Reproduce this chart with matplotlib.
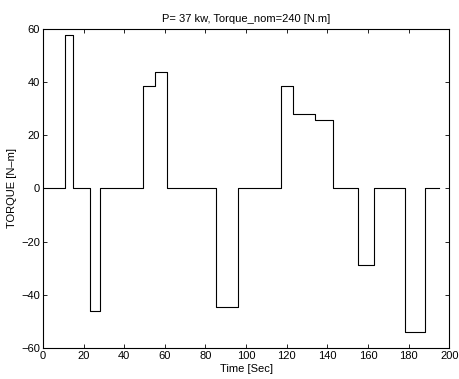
import matplotlib
matplotlib.use("Agg")
import matplotlib.pyplot as plt

# step change times [s] and torque held from each time [N.m]
time_s = [0, 11, 15, 23, 28, 49, 55, 61, 85, 96, 117, 123, 134, 143, 155, 163, 178, 188, 195]
torque = [0, 57.7, 0, -46.0, 0, 38.5, 43.7, 0, -44.7, 0, 38.5, 28.0, 25.8, 0, -28.9, 0, -54.0, 0, 0]

xticks = list(range(0, 201, 20))
yticks = list(range(-60, 61, 20))

plt.rcParams['font.family'] = ['Liberation Sans', 'DejaVu Sans']

fig = plt.figure(figsize=(4.59, 3.79), dpi=100)
fig.patch.set_facecolor('white')
ax = fig.add_axes([0.0937, 0.0818, 0.885, 0.8425])

ax.step(time_s, torque, where='post', color='black', linewidth=0.8)

ax.set_xlim(0, 200)
ax.set_ylim(-60, 60)
ax.set_xticks(xticks)
ax.set_yticks(yticks)
ax.tick_params(direction='in', length=3, width=0.6, labelsize=8,
               top=True, right=True, pad=2)
for s in ax.spines.values():
    s.set_linewidth(0.8)

ax.set_title("P= 37 kw, Torque_nom=240 [N.m]", fontsize=8, pad=5)
ax.set_xlabel("Time [Sec]", fontsize=8, labelpad=2)
ax.set_ylabel("TORQUE [N\u2013m]", fontsize=8, labelpad=3)

fig.savefig("out.png", dpi=100)
